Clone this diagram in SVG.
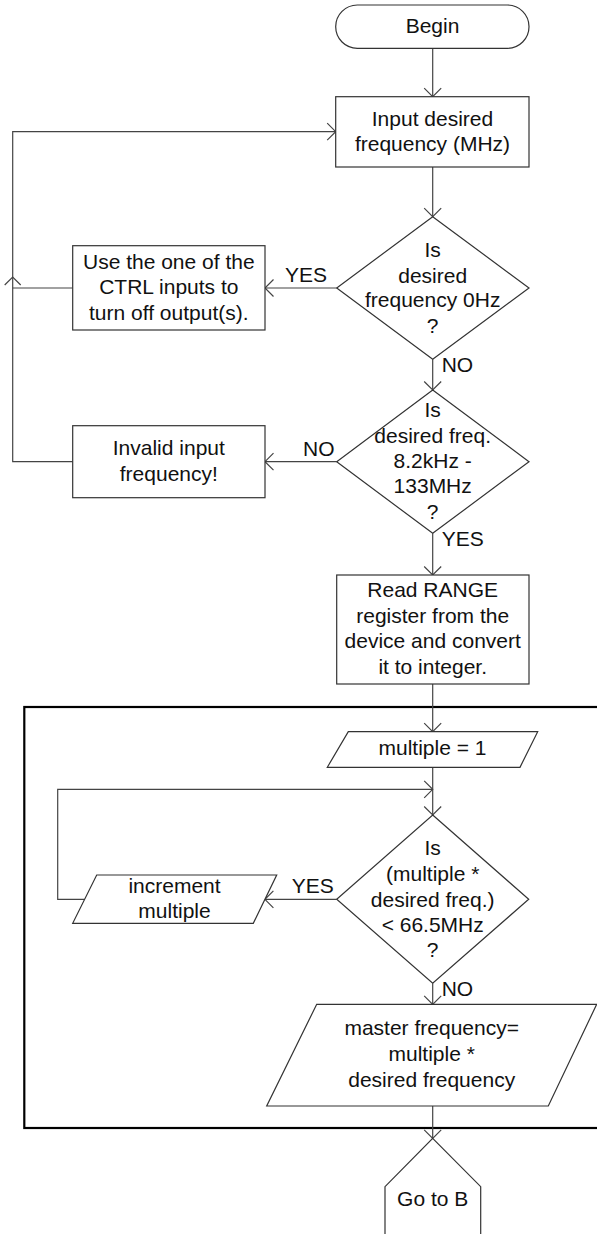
<svg xmlns="http://www.w3.org/2000/svg" width="597" height="1234" viewBox="0 0 597 1234">
<style>
.n{fill:#fff;stroke:#333;stroke-width:1.2}
.c{fill:none;stroke:#444;stroke-width:1.2}
.t{font-family:"Liberation Sans",Arial,sans-serif;font-size:21px;fill:#111;text-anchor:middle}
.l{font-family:"Liberation Sans",Arial,sans-serif;font-size:21px;fill:#111}
</style>
<defs>
<marker id="a" markerUnits="userSpaceOnUse" markerWidth="20" markerHeight="20" refX="10" refY="10" orient="auto" viewBox="0 0 20 20">
<path d="M1.5,1.5 L10,10 L1.5,18.5" fill="none" stroke="#444" stroke-width="1.2"/>
</marker>
</defs>
<rect id="frame" x="24.3" y="707" width="600" height="421" fill="none" stroke="#000" stroke-width="2.2"/>
<g id="connectors">
<line class="c" x1="432.7" y1="48.3" x2="432.7" y2="96.7" marker-end="url(#a)"/>
<line class="c" x1="432.7" y1="167" x2="432.7" y2="216.7" marker-end="url(#a)"/>
<line class="c" x1="336.7" y1="288" x2="265" y2="288" marker-end="url(#a)"/>
<polyline class="c" points="72.7,288 12.7,288"/>
<path class="c" d="M4.7,285 L12.7,277 L20.7,285"/>
<polyline class="c" points="72.7,461.7 12.7,461.7 12.7,131.7 335.7,131.7" marker-end="url(#a)"/>
<line class="c" x1="432.7" y1="359.3" x2="432.7" y2="390" marker-end="url(#a)"/>
<line class="c" x1="336.7" y1="461.7" x2="265" y2="461.7" marker-end="url(#a)"/>
<line class="c" x1="432.7" y1="533.3" x2="432.7" y2="575" marker-end="url(#a)"/>
<line class="c" x1="432.7" y1="684" x2="432.7" y2="731.7" marker-end="url(#a)"/>
<line class="c" x1="432.7" y1="767.3" x2="432.7" y2="815" marker-end="url(#a)"/>
<line class="c" x1="336.7" y1="899.3" x2="264.9" y2="899.3" marker-end="url(#a)"/>
<polyline class="c" points="84.6,899.3 57.7,899.3 57.7,789.3 432.7,789.3" marker-end="url(#a)"/>
<line class="c" x1="432.7" y1="983.3" x2="432.7" y2="1004.3" marker-end="url(#a)"/>
<line class="c" x1="432.7" y1="1106" x2="432.7" y2="1138.3" marker-end="url(#a)"/>
<text class="l" x="285" y="282.3">YES</text>
<text class="l" x="441.7" y="371.7">NO</text>
<text class="l" x="303" y="456">NO</text>
<text class="l" x="441.7" y="546">YES</text>
<text class="l" x="291.7" y="893.3">YES</text>
<text class="l" x="441.7" y="996">NO</text>
</g>
<g id="begin">
<rect class="n" x="335.7" y="5" width="193.3" height="43.3" rx="21.6" ry="21.6"/>
<text class="t" x="432.5" y="33.3">Begin</text>
</g>
<g id="input">
<rect class="n" x="335.7" y="96.7" width="193.3" height="70.3"/>
<text class="t" x="432.5" y="126">Input desired</text>
<text class="t" x="432.5" y="150.7">frequency (MHz)</text>
</g>
<g id="dec1">
<polygon class="n" points="432.7,216.7 529,288 432.7,359.3 336.7,288"/>
<text class="t" x="432.7" y="256.7">Is</text>
<text class="t" x="432.7" y="282.7">desired</text>
<text class="t" x="432.7" y="306.7">frequency 0Hz</text>
<text class="t" x="432.7" y="332.7">?</text>
</g>
<g id="ctrl">
<rect class="n" x="72.7" y="245.7" width="192.3" height="84.3"/>
<text class="t" x="168.8" y="269">Use the one of the</text>
<text class="t" x="168.8" y="294.3">CTRL inputs to</text>
<text class="t" x="168.8" y="320">turn off output(s).</text>
</g>
<g id="dec2">
<polygon class="n" points="432.7,390 529,461.7 432.7,533.3 336.7,461.7"/>
<text class="t" x="432.7" y="416.7">Is</text>
<text class="t" x="432.7" y="442.7">desired freq.</text>
<text class="t" x="432.7" y="468.3">8.2kHz -</text>
<text class="t" x="432.7" y="493.3">133MHz</text>
<text class="t" x="432.7" y="519.3">?</text>
</g>
<g id="invalid">
<rect class="n" x="72.7" y="425.7" width="192.3" height="72"/>
<text class="t" x="168.8" y="455">Invalid input</text>
<text class="t" x="168.8" y="481">frequency!</text>
</g>
<g id="read">
<rect class="n" x="336.7" y="575" width="192.3" height="109"/>
<text class="t" x="432.7" y="596.7">Read RANGE</text>
<text class="t" x="432.7" y="622.7">register from the</text>
<text class="t" x="432.7" y="648.3">device and convert</text>
<text class="t" x="432.7" y="674">it to integer.</text>
</g>
<g id="mult1">
<polygon class="n" points="348.3,731.7 537.7,731.7 520,767.3 327.3,767.3"/>
<text class="t" x="432.5" y="755">multiple = 1</text>
</g>
<g id="dec3">
<polygon class="n" points="432.7,815 528.7,899.3 432.7,983.3 336.7,899.3"/>
<text class="t" x="432.7" y="855">Is</text>
<text class="t" x="432.7" y="881">(multiple *</text>
<text class="t" x="432.7" y="906.7">desired freq.)</text>
<text class="t" x="432.7" y="931.7">&lt; 66.5MHz</text>
<text class="t" x="432.7" y="956.7">?</text>
</g>
<g id="incr">
<polygon class="n" points="96.7,875 276.7,875 253.3,923.3 72.7,923.3"/>
<text class="t" x="174.5" y="892.7">increment</text>
<text class="t" x="174.5" y="918.3">multiple</text>
</g>
<g id="master">
<polygon class="n" points="316.7,1004.3 596.7,1004.3 548.3,1106 266.7,1106"/>
<text class="t" x="431.7" y="1035">master frequency=</text>
<text class="t" x="431.7" y="1060.7">multiple *</text>
<text class="t" x="431.7" y="1086.7">desired frequency</text>
</g>
<g id="gotob">
<polygon class="n" points="432.7,1138.3 480.7,1186.7 480.7,1240 385,1240 385,1186.7"/>
<text class="t" x="432.7" y="1205.7">Go to B</text>
</g>
</svg>
